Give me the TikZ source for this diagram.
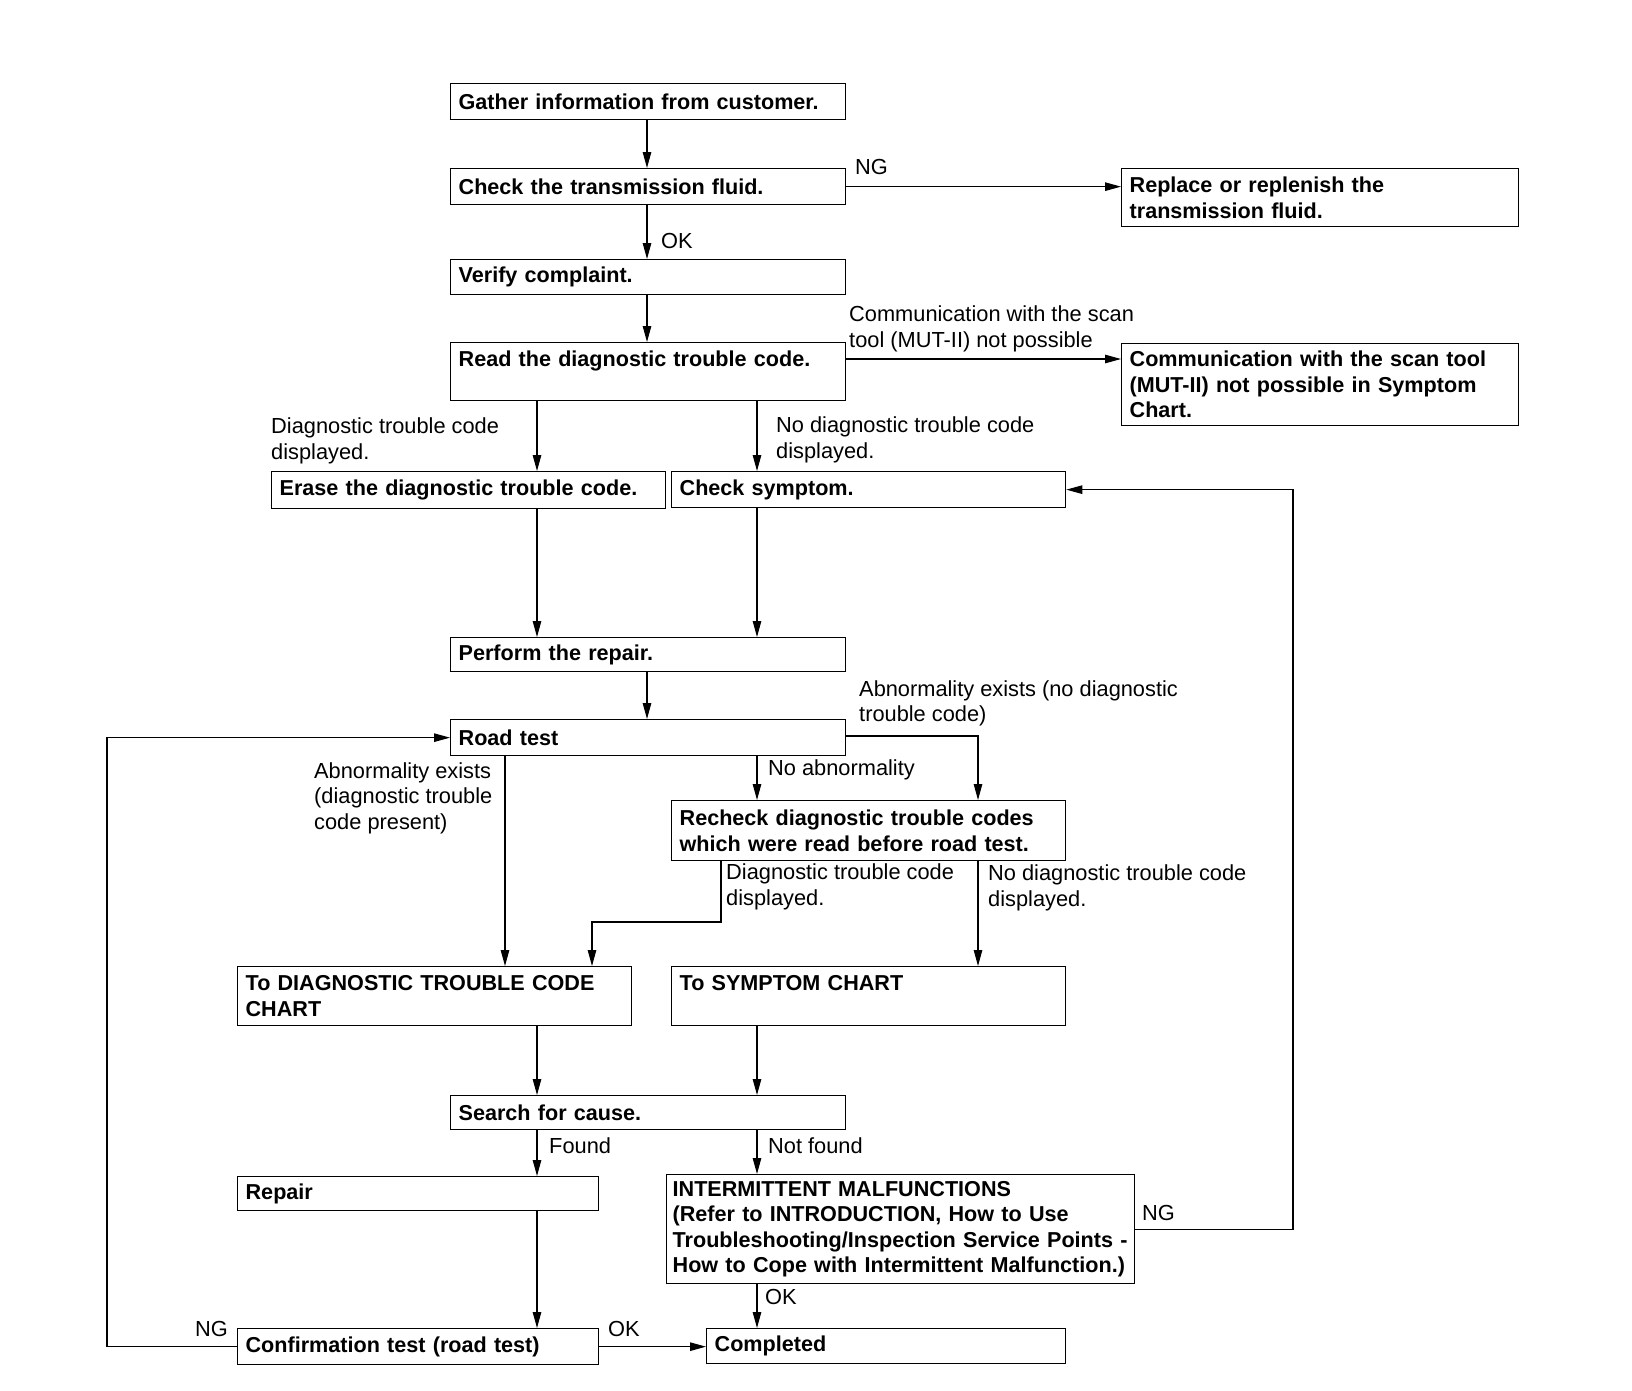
\documentclass[tikz,border=0pt]{standalone}
\usepackage{fontspec}
\setmainfont{Liberation Sans}
\usetikzlibrary{arrows.meta}
\begin{document}
\begin{tikzpicture}[x=1pt,y=-1pt,
  box/.style={draw, line width=1.3pt, anchor=north west, inner xsep=8pt, inner ysep=0pt,
    align=left, font=\bfseries\fontsize{21.6}{25.5}\selectfont},
  lbl/.style={anchor=west, inner sep=0pt, align=left, font=\fontsize{21.8}{25.5}\selectfont},
  arr/.style={line width=1.1pt, -{Triangle[length=16pt,width=8.5pt]}}]
\useasboundingbox (0,0) rectangle (1632,1390);

% boxes
\node[box, text width=379pt, minimum height=36pt] (gather) at (450,83) {Gather information from customer.};
\node[box, text width=379pt, minimum height=36pt] (fluid) at (450,168) {Check the transmission fluid.};
\node[box, text width=381pt, minimum height=58pt] (replace) at (1121,168) {Replace or replenish the\\transmission fluid.};
\node[box, text width=379pt, minimum height=35pt] (verify) at (450,259) {Verify complaint.};
\node[box, text width=379pt, minimum height=58pt] (read) at (450,342) {Read the diagnostic trouble code.\\\mbox{}};
\node[box, text width=381pt, minimum height=82pt] (comm) at (1121,343) {Communication with the scan tool\\(MUT-II) not possible in Symptom\\Chart.};
\node[box, text width=378pt, minimum height=37pt] (erase) at (271,471) {Erase the diagnostic trouble code.};
\node[box, text width=378pt, minimum height=36pt] (symptom) at (671,471) {Check symptom.};
\node[box, text width=379pt, minimum height=34pt] (perform) at (450,637) {Perform the repair.};
\node[box, text width=379pt, minimum height=36pt] (road) at (450,719) {Road test};
\node[box, text width=378pt, minimum height=60pt] (recheck) at (671,800) {Recheck diagnostic trouble codes\\which were read before road test.};
\node[box, text width=378pt, minimum height=59pt] (todtc) at (237,966) {To DIAGNOSTIC TROUBLE CODE\\CHART};
\node[box, text width=378pt, minimum height=59pt] (tosym) at (671,966) {To SYMPTOM CHART\\\mbox{}};
\node[box, text width=379pt, minimum height=34pt] (search) at (450,1095) {Search for cause.};
\node[box, text width=345pt, minimum height=34pt] (repair) at (237,1176) {Repair};
\node[box, inner xsep=6pt, text width=456pt, minimum height=109pt] (inter) at (666,1174) {INTERMITTENT MALFUNCTIONS\\(Refer to INTRODUCTION, How to Use\\\mbox{Troubleshooting/Inspection Service Points -}\\\mbox{How to Cope with Intermittent Malfunction.)}};
\node[box, text width=345pt, minimum height=36pt] (confirm) at (237,1328) {Confirmation test (road test)};
\node[box, text width=343pt, minimum height=35pt] (done) at (706,1328) {Completed};

% column / row helpers
\coordinate (xM) at (647,0);
\coordinate (xL) at (537,0);
\coordinate (xR) at (757,0);
\coordinate (xRT) at (505,0);
\coordinate (xNA) at (978,0);
\coordinate (xD) at (721,0);
\coordinate (xD2) at (592,0);
\coordinate (xLoop) at (107,0);
\coordinate (xRLoop) at (1293,0);
\coordinate (yComm) at (0,359);
\coordinate (yNA) at (0,736);
\coordinate (yD) at (0,922);

% connectors
\draw[arr] (gather.south -| xM) -- (fluid.north -| xM);
\draw[arr] (fluid.south -| xM) -- (verify.north -| xM);
\draw[arr] (verify.south -| xM) -- (read.north -| xM);
\draw[arr] (fluid.east) -- (fluid.east -| replace.west);
\draw[arr] (read.east |- yComm) -- (comm.west |- yComm);
\draw[arr] (read.south -| xL) -- (erase.north -| xL);
\draw[arr] (read.south -| xR) -- (symptom.north -| xR);
\draw[arr] (erase.south -| xL) -- (perform.north -| xL);
\draw[arr] (symptom.south -| xR) -- (perform.north -| xR);
\draw[arr] (perform.south -| xM) -- (road.north -| xM);
\draw[arr] (road.south -| xRT) -- (todtc.north -| xRT);
\draw[arr] (road.south -| xR) -- (recheck.north -| xR);
\draw[arr] (road.east |- yNA) -| (recheck.north -| xNA);
\draw[arr] (recheck.south -| xD) |- (yD -| xD2) -- (todtc.north -| xD2);
\draw[arr] (recheck.south -| xNA) -- (tosym.north -| xNA);
\draw[arr] (todtc.south -| xL) -- (search.north -| xL);
\draw[arr] (tosym.south -| xR) -- (search.north -| xR);
\draw[arr] (search.south -| xL) -- (repair.north -| xL);
\draw[arr] (search.south -| xR) -- (inter.north -| xR);
\draw[arr] (repair.south -| xL) -- (confirm.north -| xL);
\draw[arr] (inter.south -| xR) -- (done.north -| xR);
\draw[arr] (confirm.east) -- (confirm.east -| done.west);
\draw[arr] (confirm.west) -| (road.west -| xLoop) -- (road.west);
\draw[arr] (inter.east) -| (symptom.east -| xRLoop) -- (symptom.east);

% labels
\node[lbl] (l1) at (855,167) {NG};
\node[lbl] (l2) at (661,241) {OK};
\node[lbl] (l3) at (849,329) {Communication with the scan\\tool (MUT-II) not possible};
\node[lbl] (l4) at (271,441) {Diagnostic trouble code\\displayed.};
\node[lbl] (l5) at (776,440) {No diagnostic trouble code\\displayed.};
\node[lbl] (l6) at (859,703.5) {Abnormality exists (no diagnostic\\trouble code)};
\node[lbl] (l7) at (768,770) {No abnormality};
\node[lbl] (l8) at (314,798) {Abnormality exists\\(diagnostic trouble\\code present)};
\node[lbl] (l9) at (726,887) {Diagnostic trouble code\\displayed.};
\node[lbl] (l10) at (988,888) {No diagnostic trouble code\\displayed.};
\node[lbl] (l11) at (549,1146) {Found};
\node[lbl] (l12) at (768,1146) {Not found};
\node[lbl] (l13) at (1142,1213) {NG};
\node[lbl] (l14) at (765,1297) {OK};
\node[lbl] (l15) at (195,1329) {NG};
\node[lbl] (l16) at (608,1329) {OK};
\end{tikzpicture}
\end{document}
